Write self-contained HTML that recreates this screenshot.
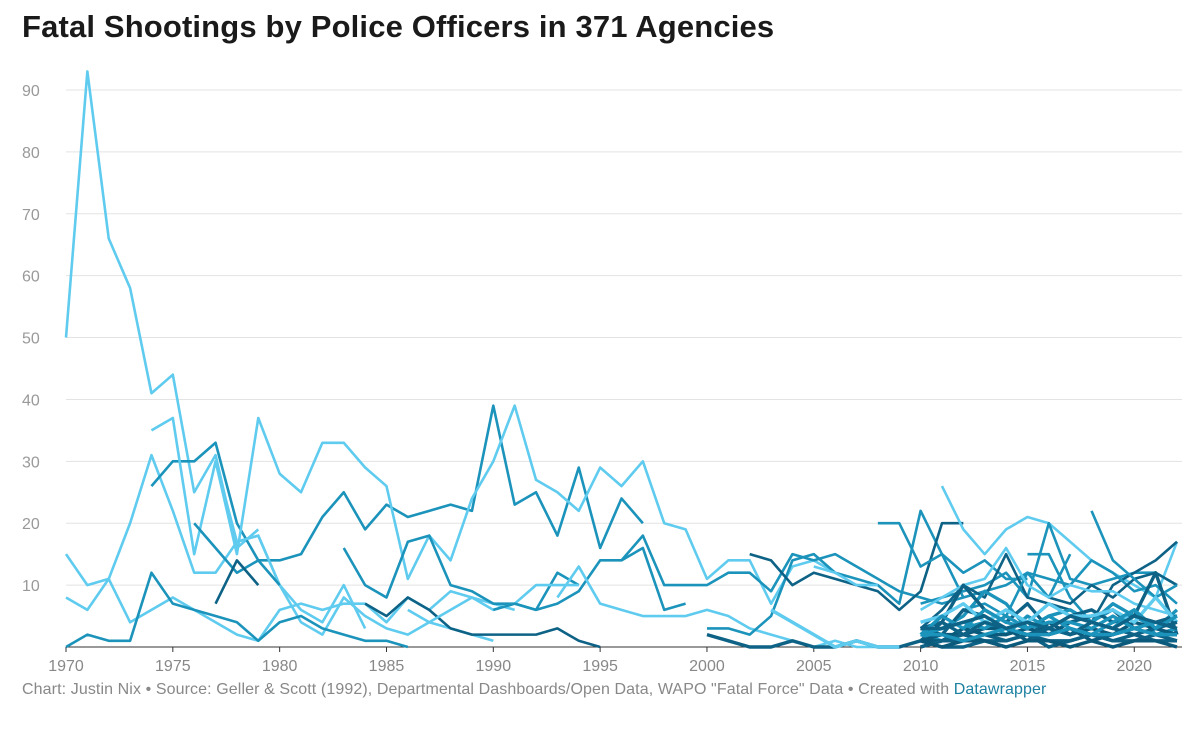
<!DOCTYPE html>
<html><head><meta charset="utf-8">
<style>
body{margin:0;background:#fff;font-family:"Liberation Sans",sans-serif;}
#wrap{position:relative;width:1200px;height:730px;overflow:hidden}
h1{position:absolute;left:22px;top:9px;margin:0;font-size:31px;font-weight:bold;color:#1a1a1a;letter-spacing:0.15px}
#foot{position:absolute;left:22px;top:681px;font-size:16px;color:#888;letter-spacing:0.1px}
#foot span{color:#1d81a2}
</style></head><body>
<div id="wrap">
<h1>Fatal Shootings by Police Officers in 371 Agencies</h1>
<svg id="chart" width="1200" height="730" style="position:absolute;left:0;top:0"></svg>
<div id="foot">Chart: Justin Nix • Source: Geller &amp; Scott (1992), Departmental Dashboards/Open Data, WAPO "Fatal Force" Data • Created with <span>Datawrapper</span></div>
</div>
<script>
const yTicks=[0,10,20,30,40,50,60,70,80,90];
const xTicks=[1970,1975,1980,1985,1990,1995,2000,2005,2010,2015,2020];
const seriesStart=[1970,1970,1970,1974,1977,1974,1976,1977,1983,1984,1986,1990,1970,1996,1993,2000,2002,2005,2008,2011,2010,2010,2015,2012,2016,2018,2010,2010,2010,2010,2010,2010,2010,2010,2010,2010,2010,2010,2000,2003,2010,2010,2010,2010];
const seriesColor=["#5fcbef","#5fcbef","#5fcbef","#1b93bb","#5fcbef","#5fcbef","#1b93bb","#0d6286","#1b93bb","#0d6286","#5fcbef","#1b93bb","#1b93bb","#1b93bb","#5fcbef","#1b93bb","#0d6286","#5fcbef","#1b93bb","#5fcbef","#1b93bb","#0d6286","#1b93bb","#1b93bb","#0d6286","#1b93bb","#5fcbef","#1b93bb","#0d6286","#0d6286","#1b93bb","#0b5a7c","#5fcbef","#0d6286","#1b93bb","#0b5a7c","#0d6286","#1b93bb","#0d6286","#5fcbef","#0d6286","#0b5a7c","#1b93bb","#0d6286"];
const seriesValues=[
[50,93,66,58,41,44,25,31,16,19],
[15,10,11,20,31,22,12,12,17,18,10,4,2,8,5,3,2,4,3,2,1],
[8,6,11,4,6,8,6,4,2,1,6,7,6,7,7,4,8,6,9,8,7,6],
[26,30,30,33,20,14,14,15,21,25,19,23,21,22,23,22,39,23,25,18,29,16,24,20],
[30,15,37,28,25,33,33,29,26,11,18,14,24,30,39,27,25,22,29,26,30,20,19,11,14,14,7,13,14,12],
[35,37,15,30,17,18,10,6,4,10,3],
[20,16,12,14,10],
[7,14,10],
[16,10,8,17,18,10,9,7,7,6,12,10],
[7,5,8,6,3,2,2,2,2,3,1,0],
[6,4,6,8,6,7,10,10,10],
[6,7,6,7,9,14,14,16,6,7],
[0,2,1,1,12,7,6,5,4,1,4,5,3,2,1,1,0],
[14,18,10,10,10,12,12,9,15,14,15,13,11,9,8,7,8,9,10,12,8,15],
[8,13,7,6,5,5,5,6,5,3,2,1,0,1,0,0,0],
[3,3,2,5,14,15,12,11,10,7,22,15,12,14,11,11],
[15,14,10,12,11,10,9,6,9,20,20],
[13,12,10,10],
[20,20,13,15,8],
[26,19,15,19,21,20,17,14,12,10,8,17],
[7,8,9,10,12,8,20,11,10,11,12,12,10],
[3,6,10,8,15,8,7,6,4,10,12,14,17],
[15,15,8,4,6],
[6,7,5,12,11,10,14,12,9,10,7],
[8,7,10,8,11,12,10],
[22,14,11,8,10],
[6,8,10,11,16,10,8,10,9,9,7,6,5],
[2,3,5,9,7,3,5,6,4,7,5,3,6],
[1,4,10,6,4,7,3,5,6,4,5,12,2],
[3,2,6,5,3,4,2,4,5,6,3,4,5],
[2,1,3,4,2,5,3,2,4,3,6,2,3],
[1,2,2,3,3,1,4,2,3,2,4,3,2],
[4,5,7,4,6,4,7,5,5,6,4,8,4],
[0,1,1,2,1,2,1,1,2,1,2,1,1],
[2,3,4,3,5,3,4,4,3,5,3,4,3],
[1,1,3,2,2,3,2,3,1,2,3,2,2],
[3,4,2,4,3,2,3,2,4,3,2,3,4],
[2,5,3,6,4,3,5,3,2,4,6,3,5],
[2,1,0,0,1,0,0,1,0,0,1,0,0,1,0],
[6,4,2,0,1,0,0],
[0,1,2,1,1,2,0,1,2,1,1,2,1],
[1,0,1,1,0,1,1,0,1,0,1,1,0],
[2,2,1,2,3,2,2,3,2,2,3,2,2],
[3,3,4,5,3,4,3,5,4,3,5,4,3]
];
const NS="http://www.w3.org/2000/svg";
const svg=document.getElementById('chart');
const x0=66,x1=1177,y0=647,yTop=90;
function xs(y){return x0+(y-1970)*(x1-x0)/(2022-1970);}
function ys(v){return y0-v*(y0-yTop)/90;}
yTicks.forEach(t=>{
 const l=document.createElementNS(NS,'line');
 
 
 l.setAttribute('x1',66);l.setAttribute('x2',1182);l.setAttribute('y1',ys(t));l.setAttribute('y2',ys(t));
 l.setAttribute('stroke',t===0?'#333':'#e3e3e3');l.setAttribute('stroke-width',1);
 svg.appendChild(l);
 if(t>0){const tx=document.createElementNS(NS,'text');
 
 
 tx.setAttribute('x',22);tx.setAttribute('y',ys(t)+6);tx.setAttribute('font-size','16');tx.setAttribute('fill','#999');
 tx.setAttribute('font-family','Liberation Sans, sans-serif');tx.textContent=t;svg.appendChild(tx);}
});
xTicks.forEach(t=>{
 const tk=document.createElementNS(NS,'line');
 
 
 tk.setAttribute('x1',xs(t));tk.setAttribute('x2',xs(t));tk.setAttribute('y1',647);tk.setAttribute('y2',652);tk.setAttribute('stroke','#333');
 svg.appendChild(tk);
 const tx=document.createElementNS(NS,'text');
 
 
 tx.setAttribute('x',xs(t));tx.setAttribute('y',671);tx.setAttribute('text-anchor','middle');tx.setAttribute('font-size','16');tx.setAttribute('fill','#888');
 tx.setAttribute('font-family','Liberation Sans, sans-serif');tx.textContent=t;svg.appendChild(tx);
});
seriesValues.forEach((vals,i)=>{
 const p=document.createElementNS(NS,'polyline');
 
 
 p.setAttribute('points',vals.map((v,j)=>xs(seriesStart[i]+j)+','+ys(v)).join(' '));
 p.setAttribute('fill','none');p.setAttribute('stroke',seriesColor[i]);
 p.setAttribute('stroke-width',i>=27?3.4:2.6);
 p.setAttribute('stroke-linejoin','round');
 svg.appendChild(p);
});
</script>
</body></html>
